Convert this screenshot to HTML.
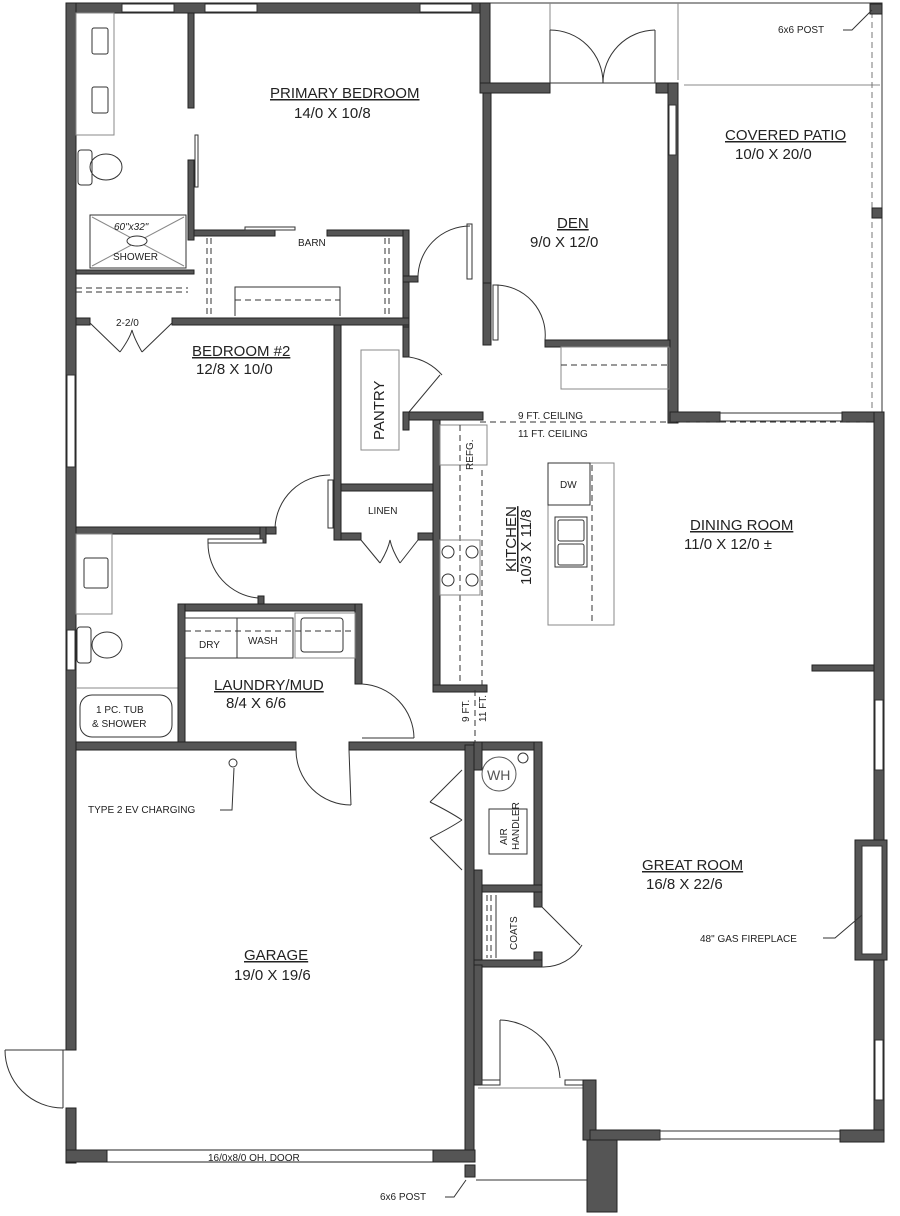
<!DOCTYPE html>
<html><head><meta charset="utf-8"><style>
html,body{margin:0;padding:0;background:#fff}
svg{display:block}
text{font-family:"Liberation Sans",sans-serif;fill:#222}
.w{fill:#555;stroke:#222;stroke-width:1}
.t{stroke:#333;stroke-width:1;fill:none}
.g{stroke:#888;stroke-width:1;fill:none}
.d{stroke:#333;stroke-width:1;fill:none;stroke-dasharray:6,4}
.rl{font-size:15px;text-decoration:underline}
.rs{font-size:15px}
.s{font-size:10px}
</style></head><body>
<svg width="900" height="1216" viewBox="0 0 900 1216" xmlns="http://www.w3.org/2000/svg">
<!-- patio outline -->
<path class="t" d="M488 3 H882 V412"/>
<line class="g" x1="678" y1="3" x2="678" y2="80"/>
<line class="g" x1="550" y1="3" x2="550" y2="30"/>
<line class="g" x1="684" y1="85" x2="880" y2="85"/>
<line class="d" x1="872" y1="12" x2="872" y2="412" style="stroke:#777"/>
<rect class="w" x="870" y="4" width="12" height="10"/>
<rect class="w" x="872" y="208" width="10" height="10"/>

<!-- top & left exterior walls -->
<rect class="w" x="66" y="3" width="424" height="10"/>
<rect x="122" y="4" width="52" height="8" fill="#fff" stroke="#333"/>
<rect x="205" y="4" width="52" height="8" fill="#fff" stroke="#333"/>
<rect x="420" y="4" width="52" height="8" fill="#fff" stroke="#333"/>
<rect class="w" x="66" y="3" width="10" height="1047"/>
<rect x="67" y="375" width="8" height="92" fill="#fff" stroke="#333"/>
<rect x="67" y="630" width="8" height="40" fill="#fff" stroke="#333"/>
<rect class="w" x="66" y="1108" width="10" height="55"/>
<!-- garage door left -->
<line class="t" x1="5" y1="1050" x2="66" y2="1050"/>
<path class="t" d="M5 1050 A58 58 0 0 0 63 1108"/>
<line class="t" x1="63" y1="1050" x2="63" y2="1108"/>

<!-- primary bath / closet partitions -->
<rect class="w" x="188" y="13" width="6" height="95"/>
<rect class="w" x="188" y="160" width="6" height="80"/>
<rect x="195" y="135" width="3" height="52" fill="#fff" stroke="#333"/>
<rect class="w" x="194" y="230" width="81" height="6"/>
<rect class="w" x="327" y="230" width="81" height="6"/>
<rect x="245" y="227" width="50" height="3" fill="#fff" stroke="#333"/>
<text class="s" x="298" y="246">BARN</text>
<rect class="w" x="403" y="230" width="6" height="50"/>
<rect class="w" x="403" y="276" width="15" height="6"/>
<rect class="w" x="403" y="282" width="6" height="45"/>
<rect class="w" x="76" y="318" width="14" height="7"/>
<rect class="w" x="172" y="318" width="237" height="7"/>
<rect class="w" x="76" y="270" width="118" height="4"/>
<line class="d" x1="76" y1="288" x2="188" y2="288"/><line class="d" x1="76" y1="292" x2="188" y2="292"/>
<line class="d" x1="207" y1="238" x2="207" y2="316"/><line class="d" x1="211" y1="238" x2="211" y2="316"/>
<line class="d" x1="385" y1="238" x2="385" y2="316"/><line class="d" x1="389" y1="238" x2="389" y2="316"/>
<path class="t" d="M235 316 V287 H340 V316"/>
<line class="d" x1="235" y1="300" x2="340" y2="300"/>
<!-- bath fixtures -->
<rect class="g" x="76" y="13" width="38" height="122"/>
<rect class="t" x="92" y="28" width="16" height="26" rx="2"/>
<rect class="t" x="92" y="87" width="16" height="26" rx="2"/>
<rect class="t" x="78" y="150" width="14" height="35" rx="3"/>
<ellipse class="t" cx="106" cy="167" rx="16" ry="13"/>
<rect class="t" x="90" y="215" width="96" height="53"/>
<line class="g" x1="92" y1="217" x2="184" y2="266"/><line class="g" x1="184" y1="217" x2="92" y2="266"/>
<ellipse class="t" cx="137" cy="241" rx="10" ry="5" style="fill:#fff"/>
<text class="s" x="114" y="230" font-style="italic">60"x32"</text>
<text class="s" x="113" y="260">SHOWER</text>
<text class="rl" x="270" y="98">PRIMARY BEDROOM</text>
<text class="rs" x="294" y="118">14/0 X 10/8</text>
<!-- closet doors 2-2/0 -->
<text class="s" x="116" y="326">2-2/0</text>
<line class="t" x1="90" y1="323" x2="120" y2="352"/>
<line class="t" x1="172" y1="323" x2="142" y2="352"/>
<path class="t" d="M120 352 Q130 338 132 330 Q134 338 142 352"/>

<!-- den -->
<rect class="w" x="480" y="3" width="10" height="90"/>
<rect class="w" x="480" y="83" width="70" height="10"/>
<rect class="w" x="656" y="83" width="22" height="10"/>
<rect class="w" x="668" y="83" width="10" height="340"/>
<rect x="669" y="105" width="7" height="50" fill="#fff" stroke="#333"/>
<line class="t" x1="550" y1="83" x2="656" y2="83"/>
<line class="t" x1="550" y1="30" x2="550" y2="83"/><line class="t" x1="655" y1="30" x2="655" y2="83"/>
<path class="t" d="M550 30 A53 53 0 0 1 603 83"/><path class="t" d="M655 30 A53 53 0 0 0 603 83"/>
<rect class="w" x="483" y="93" width="8" height="190"/>
<rect class="w" x="483" y="283" width="8" height="62"/>
<rect x="493" y="285" width="5" height="55" fill="#fff" stroke="#333"/>
<path class="t" d="M495 285 A50 50 0 0 1 545 340"/>
<rect class="w" x="545" y="340" width="125" height="7"/>
<rect class="g" x="561" y="347" width="108" height="42"/>
<line class="d" x1="561" y1="365" x2="668" y2="365"/>
<text class="rl" x="557" y="228">DEN</text>
<text class="rs" x="530" y="247">9/0 X 12/0</text>
<text class="rl" x="725" y="140">COVERED PATIO</text>
<text class="rs" x="735" y="159">10/0 X 20/0</text>
<text class="s" x="778" y="33">6x6 POST</text>
<path class="t" d="M843 30 H852 L872 10"/>
<!-- door into hall from primary -->
<rect x="467" y="224" width="5" height="55" fill="#fff" stroke="#333"/>
<path class="t" d="M418 280 A52 52 0 0 1 470 226"/>

<!-- patio/great room boundary -->
<rect class="w" x="670" y="412" width="50" height="10"/>
<rect x="720" y="413" width="122" height="8" fill="#fff" stroke="#333"/>
<rect class="w" x="842" y="412" width="42" height="10"/>
<rect class="w" x="874" y="412" width="10" height="730"/>
<rect x="875" y="700" width="8" height="70" fill="#fff" stroke="#333"/>
<rect x="875" y="1040" width="8" height="60" fill="#fff" stroke="#333"/>
<rect class="w" x="812" y="665" width="62" height="6"/>
<!-- fireplace -->
<rect class="w" x="855" y="840" width="32" height="120"/>
<rect x="862" y="846" width="20" height="108" fill="#fff" stroke="#333"/>
<text class="s" x="700" y="942">48" GAS FIREPLACE</text>
<path class="t" d="M823 938 H835 L862 915"/>

<!-- ceiling line -->
<line class="d" x1="480" y1="422" x2="870" y2="422"/>
<text class="s" x="518" y="419">9 FT. CEILING</text>
<text class="s" x="518" y="437">11 FT. CEILING</text>

<!-- pantry / bedroom2 area -->
<rect class="w" x="334" y="325" width="7" height="215"/>
<rect class="w" x="403" y="327" width="6" height="30"/>
<rect class="g" x="361" y="350" width="38" height="100"/>
<text class="rs" transform="translate(384,440) rotate(-90)">PANTRY</text>
<line class="t" x1="409" y1="412" x2="440" y2="375"/>
<path class="t" d="M409 357 A55 55 0 0 1 442 375"/>
<rect class="w" x="403" y="412" width="80" height="8"/>
<rect class="w" x="403" y="412" width="6" height="18"/>
<text class="rl" x="192" y="356">BEDROOM #2</text>
<text class="rs" x="196" y="374">12/8 X 10/0</text>
<!-- linen -->
<rect class="w" x="341" y="484" width="95" height="7"/>
<rect class="w" x="341" y="533" width="20" height="7"/>
<rect class="w" x="418" y="533" width="18" height="7"/>
<text class="s" x="368" y="514">LINEN</text>
<line class="t" x1="361" y1="540" x2="380" y2="563"/><line class="t" x1="418" y1="540" x2="400" y2="563"/>
<path class="t" d="M380 563 Q388 550 390 540 Q392 550 400 563"/>
<rect x="328" y="480" width="5" height="48" fill="#fff" stroke="#333"/>
<path class="t" d="M275 528 A55 55 0 0 1 330 475"/>
<!-- bedroom2 bottom / bath -->
<rect class="w" x="76" y="527" width="200" height="7"/>
<rect class="w" x="260" y="527" width="6" height="16"/>
<rect x="208" y="539" width="55" height="4" fill="#fff" stroke="#333"/>
<path class="t" d="M208 543 A55 55 0 0 0 258 598"/>
<rect class="w" x="258" y="596" width="6" height="12"/>
<rect class="g" x="76" y="534" width="36" height="80"/>
<rect class="t" x="84" y="558" width="24" height="30" rx="2"/>
<rect class="t" x="77" y="627" width="14" height="36" rx="3"/>
<ellipse class="t" cx="107" cy="645" rx="15" ry="13"/>
<rect class="t" x="80" y="695" width="92" height="42" rx="12"/>
<text class="s" x="96" y="713">1 PC. TUB</text>
<text class="s" x="92" y="727">&amp; SHOWER</text>
<line class="g" x1="76" y1="688" x2="178" y2="688"/>

<!-- kitchen -->
<rect class="w" x="433" y="420" width="7" height="270"/>
<rect class="w" x="433" y="685" width="54" height="7"/>
<rect class="g" x="440" y="425" width="47" height="40"/>
<text class="s" transform="translate(473,470) rotate(-90)">REFG.</text>
<line class="d" x1="460" y1="425" x2="460" y2="685"/>
<line class="d" x1="482" y1="470" x2="482" y2="685"/>
<rect class="g" x="440" y="540" width="40" height="55"/>
<circle class="t" cx="448" cy="552" r="6"/><circle class="t" cx="472" cy="552" r="6"/>
<circle class="t" cx="448" cy="580" r="6"/><circle class="t" cx="472" cy="580" r="6"/>
<text class="rl" transform="translate(516,572) rotate(-90)">KITCHEN</text>
<text class="rs" transform="translate(531,585) rotate(-90)">10/3 X 11/8</text>
<rect class="g" x="548" y="463" width="66" height="162"/>
<rect class="t" x="548" y="463" width="42" height="42"/>
<text class="s" x="560" y="488">DW</text>
<rect class="t" x="555" y="517" width="32" height="50"/>
<rect class="t" x="558" y="520" width="26" height="21" rx="2"/>
<rect class="t" x="558" y="544" width="26" height="21" rx="2"/>
<line class="d" x1="592" y1="465" x2="592" y2="623"/>
<text class="rl" x="690" y="530">DINING ROOM</text>
<text class="rs" x="684" y="549">11/0 X 12/0 ±</text>
<line class="d" x1="475" y1="690" x2="475" y2="745"/>
<text class="s" transform="translate(469,722) rotate(-90)">9 FT.</text>
<text class="s" transform="translate(486,722) rotate(-90)">11 FT.</text>

<!-- laundry -->
<rect class="w" x="178" y="604" width="184" height="7"/>
<rect class="w" x="178" y="604" width="7" height="145"/>
<rect class="w" x="355" y="604" width="7" height="80"/>
<rect class="t" x="185" y="618" width="108" height="40"/>
<line class="t" x1="237" y1="618" x2="237" y2="658"/>
<line class="d" x1="185" y1="631" x2="355" y2="631"/>
<text class="s" x="199" y="648">DRY</text>
<text class="s" x="248" y="644">WASH</text>
<rect class="g" x="295" y="613" width="60" height="45"/>
<rect class="t" x="301" y="618" width="42" height="34" rx="3"/>
<path class="t" d="M362 684 A55 55 0 0 1 414 738"/>
<line class="t" x1="362" y1="738" x2="414" y2="738"/>
<text class="rl" x="214" y="690">LAUNDRY/MUD</text>
<text class="rs" x="226" y="708">8/4 X 6/6</text>

<!-- garage top wall -->
<rect class="w" x="76" y="742" width="220" height="8"/>
<rect class="w" x="349" y="742" width="127" height="8"/>
<path class="t" d="M296 750 A55 55 0 0 0 351 805"/>
<line class="t" x1="349" y1="750" x2="351" y2="805"/>
<circle class="t" cx="233" cy="763" r="4"/>
<text class="s" x="88" y="813">TYPE 2 EV CHARGING</text>
<path class="t" d="M220 810 H232 L234 768"/>
<rect class="w" x="465" y="745" width="9" height="415"/>
<text class="rl" x="244" y="960">GARAGE</text>
<text class="rs" x="234" y="980">19/0 X 19/6</text>
<rect class="w" x="66" y="1150" width="41" height="12"/>
<rect x="107" y="1150" width="328" height="12" fill="#fff" stroke="#222"/>
<text class="s" x="208" y="1161">16/0x8/0 OH. DOOR</text>
<rect class="w" x="433" y="1150" width="42" height="12"/>
<text class="s" x="380" y="1200">6x6 POST</text>
<path class="t" d="M445 1197 H454 L466 1180"/>
<rect class="w" x="465" y="1165" width="10" height="12"/>

<!-- WH / coats -->
<rect class="w" x="474" y="742" width="68" height="8"/>
<rect class="w" x="534" y="742" width="8" height="150"/>
<rect class="w" x="474" y="885" width="68" height="7"/>
<rect class="w" x="474" y="742" width="8" height="28"/>
<rect class="w" x="474" y="870" width="8" height="95"/>
<circle class="g" cx="499" cy="774" r="17" style="stroke:#555"/>
<text x="487" y="780" font-size="14" style="fill:#555">WH</text>
<circle class="t" cx="523" cy="758" r="5"/>
<rect class="t" x="489" y="809" width="38" height="45"/>
<text class="s" transform="translate(507,845) rotate(-90)">AIR</text>
<text class="s" transform="translate(519,850) rotate(-90)">HANDLER</text>
<line class="t" x1="462" y1="770" x2="430" y2="802"/><line class="t" x1="462" y1="870" x2="430" y2="838"/>
<path class="t" d="M430 802 Q450 812 462 820 M430 838 Q450 828 462 820"/>
<rect class="w" x="534" y="892" width="8" height="15"/>
<rect class="w" x="534" y="952" width="8" height="15"/>
<rect class="w" x="474" y="960" width="68" height="7"/>
<line class="d" x1="487" y1="895" x2="487" y2="958"/><line class="d" x1="491" y1="895" x2="491" y2="958"/>
<line class="t" x1="496" y1="895" x2="496" y2="958"/>
<text class="s" transform="translate(517,950) rotate(-90)">COATS</text>
<line class="t" x1="542" y1="907" x2="580" y2="945"/>
<path class="t" d="M542 967 A45 45 0 0 0 582 945"/>
<text class="rl" x="642" y="870">GREAT ROOM</text>
<text class="rs" x="646" y="889">16/8 X 22/6</text>

<!-- entry -->
<rect class="w" x="474" y="965" width="8" height="120"/>
<rect x="482" y="1080" width="18" height="5" fill="#fff" stroke="#333"/>
<rect x="565" y="1080" width="18" height="5" fill="#fff" stroke="#333"/>
<line class="t" x1="500" y1="1020" x2="500" y2="1080"/>
<path class="t" d="M500 1020 A62 62 0 0 1 560 1078"/>
<line class="g" x1="478" y1="1088" x2="592" y2="1088"/>
<rect class="w" x="583" y="1080" width="13" height="60"/>
<rect class="w" x="590" y="1130" width="70" height="10"/>
<rect x="660" y="1131" width="180" height="8" fill="#fff" stroke="#333"/>
<rect class="w" x="840" y="1130" width="44" height="12"/>
<rect class="w" x="587" y="1140" width="30" height="72"/>
<line class="t" x1="476" y1="1180" x2="587" y2="1180"/>
</svg>
</body></html>
